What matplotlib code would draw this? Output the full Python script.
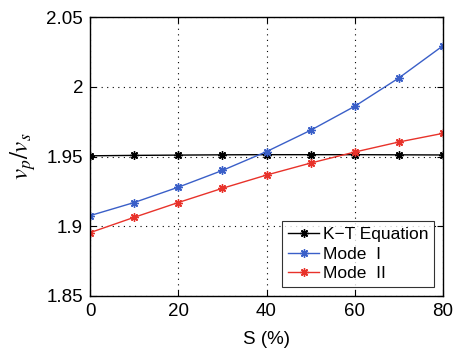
import matplotlib
matplotlib.use("Agg")
import matplotlib.pyplot as plt

plt.rcParams['font.family'] = ['Liberation Sans', 'DejaVu Sans']
plt.rcParams['mathtext.fontset'] = 'stix'

S = [0, 10, 20, 30, 40, 50, 60, 70, 80]
kt = [1.9505, 1.9508, 1.9510, 1.9512, 1.9513, 1.9513, 1.9513, 1.9512, 1.9511]
mode1 = [1.9076, 1.9170, 1.9280, 1.9400, 1.9535, 1.9688, 1.9860, 2.0063, 2.0294]
mode2 = [1.8954, 1.9064, 1.9170, 1.9272, 1.9367, 1.9453, 1.9532, 1.9604, 1.9666]
labels = ['K\u2212T Equation', 'Mode  I', 'Mode  II']
xticks = [0, 20, 40, 60, 80]
yticks = [1.85, 1.9, 1.95, 2.0, 2.05]
yticklabels = ['1.85', '1.9', '1.95', '2', '2.05']

fig = plt.figure(figsize=(4.54, 3.56), dpi=100)
ax = fig.add_axes([90/454, 1-296/356, (443-90)/454, (296-17)/356])

mk = (8, 2, 0)
ax.plot(S, kt, color='black', lw=1.0, marker=mk, ms=6, mew=1.0, label=labels[0])
ax.plot(S, mode1, color='#3a5fc8', lw=1.0, marker=mk, ms=6, mew=1.0, label=labels[1])
ax.plot(S, mode2, color='#e8322a', lw=1.0, marker=mk, ms=6, mew=1.0, label=labels[2])

ax.set_xlim(0, 80)
ax.set_ylim(1.85, 2.05)
ax.set_xticks(xticks)
ax.set_yticks(yticks)
ax.set_yticklabels(yticklabels)
ax.tick_params(direction='in', labelsize=13.5, length=4, top=True, right=True, pad=5)
ax.grid(True, linestyle=(0, (1, 4)), color='black', lw=0.8)
for sp in ax.spines.values():
    sp.set_linewidth(1.0)

ax.set_xlabel('S (%)', fontsize=13.5, labelpad=8)
ax.set_ylabel(r'$v_p/v_s$', fontsize=18, labelpad=6)

leg = ax.legend(loc='lower right', fontsize=12.5, frameon=True, fancybox=False,
                edgecolor='black', handlelength=1.8, handletextpad=0.2,
                borderpad=0.35, labelspacing=0.25, borderaxespad=0.5)
leg.get_frame().set_linewidth(0.8)

fig.savefig('out.png', dpi=100)
